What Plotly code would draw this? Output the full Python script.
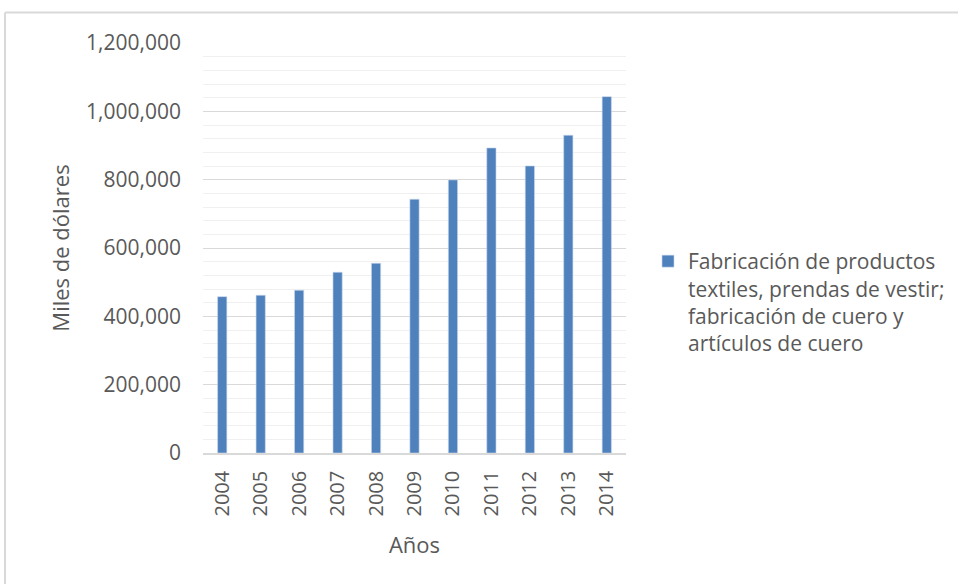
import plotly.graph_objects as go

years = ["2004", "2005", "2006", "2007", "2008", "2009", "2010", "2011", "2012", "2013", "2014"]
values = [457600, 461700, 476300, 529000, 555300, 742700, 799200, 892900, 840200, 930000, 1043000]
series_name = "Fabricación de productos<br>textiles, prendas de vestir;<br>fabricación de cuero y<br>artículos de cuero"
y_title = "Miles de dólares"
x_title = "Años"

FONT = "Open Sans"
GRAY = "#595959"

W, H = 958, 584
L, R, T, B = 203, 332, 43, 131
pw, ph = W - L - R, H - T - B

def px_x(p):
    return (p - L) / pw

def px_y(p):
    return (H - B - p) / ph

fig = go.Figure()
fig.add_trace(go.Bar(
    x=years, y=values, name=series_name,
    marker=dict(color="#4f81bd", line=dict(color="#c9d8ec", width=0.6)),
    width=0.24, showlegend=True,
))

fig.update_layout(
    width=W, height=H,
    margin=dict(l=L, r=R, t=T, b=B, autoexpand=False),
    paper_bgcolor="white", plot_bgcolor="white",
    font=dict(family=FONT, color=GRAY),
    showlegend=True,
    legend=dict(
        xref="container", yref="container",
        x=648 / W, y=1 - 241 / H, xanchor="left", yanchor="top",
        valign="top", font=dict(size=21, color=GRAY, family=FONT),
        bgcolor="rgba(0,0,0,0)", itemwidth=30,
    ),
    xaxis=dict(
        type="category", tickangle=-90, showgrid=False,
        tickfont=dict(size=20, color=GRAY, family=FONT),
        showline=True, linecolor="#d9d9d9", linewidth=1.5,
        ticks="", ticklabelstandoff=8,
        title=dict(text=x_title, font=dict(size=22, color=GRAY, family=FONT), standoff=22),
    ),
    yaxis=dict(
        range=[0, 1200000], dtick=200000, tickformat=",",
        tickfont=dict(size=21, color=GRAY, family=FONT),
        gridcolor="#d9d9d9", gridwidth=1,
        minor=dict(dtick=40000, showgrid=True, gridcolor="#f0f0f0", gridwidth=1),
        zeroline=False, showline=False, ticks="", ticklabelstandoff=21,
        title=dict(text=y_title, font=dict(size=22, color=GRAY, family=FONT), standoff=10),
    ),
    shapes=[
        dict(type="line", xref="paper", yref="paper",
             x0=px_x(5), x1=px_x(970), y0=px_y(12.5), y1=px_y(12.5),
             line=dict(color="#d9d9d9", width=2)),
        dict(type="line", xref="paper", yref="paper",
             x0=px_x(5), x1=px_x(5), y0=px_y(12.5), y1=px_y(600),
             line=dict(color="#d9d9d9", width=2)),
    ],
    bargap=0.76,
)

fig.write_html("out.html")
